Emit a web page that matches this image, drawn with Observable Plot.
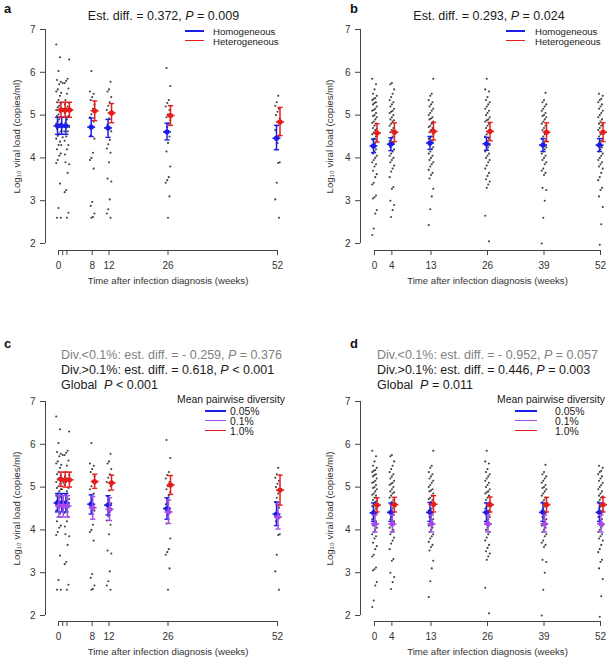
<!DOCTYPE html>
<html><head><meta charset="utf-8">
<script src="https://cdn.jsdelivr.net/npm/d3@7"></script>
<script src="https://cdn.jsdelivr.net/npm/@observablehq/plot@0.6"></script>
<style>
body{margin:0;background:#fff;}
#root{position:relative;width:614px;height:659px;font-family:"Liberation Sans",Arial,Helvetica,sans-serif;color:#1a1a1a;overflow:hidden;background:#fff}
.panel{position:absolute;width:307px}
.panel svg{position:absolute;left:0;top:0;overflow:visible}
.ov{position:absolute;white-space:nowrap}
.lab{font-weight:bold;font-size:13px;line-height:13px;color:#111}
.ttl{font-size:12.5px;line-height:15px}
.lg{font-size:9.6px;line-height:10px}
.lg2{font-size:10.4px;line-height:10.5px}
.sw{position:absolute;height:1.6px}
</style></head><body><div id="root"></div><script>
// ---------- data: panels a & c (same observations) ----------
const weeksA = [0, 1, 2, 8, 12, 26, 52];
const tickWeeksA = [0, 1, 2, 8, 12, 26, 52];
const tickLabelsA = [0, 8, 12, 26, 52];
const ptsA0 = [6.65, 6.35, 6.03, 5.82, 5.78, 5.72, 5.6, 5.55, 5.45, 5.35, 5.3, 5.27, 5.22, 5.18, 5.12, 5.08, 5.02, 4.98, 4.95, 4.9, 4.85, 4.8, 4.76, 4.72, 4.68, 4.62, 4.57, 4.52, 4.45, 4.38, 4.3, 4.2, 4.1, 4.05, 3.95, 3.88, 3.4, 2.83, 2.6, 2.6];
const ptsA1 = [5.75, 5.52, 5.25, 5.1, 4.95, 4.8, 4.62, 4.48, 4.3, 4.08];
const ptsA2 = [6.3, 5.85, 5.8, 5.75, 5.62, 5.5, 5.35, 5.28, 5.2, 5.12, 5.05, 4.98, 4.9, 4.82, 4.72, 4.62, 4.5, 4.4, 4.3, 4.2, 3.9, 3.85, 3.65, 3.25, 3.2, 2.72, 2.6];
const ptsA8 = [6.03, 5.55, 5.5, 5.42, 5.35, 5.25, 5.15, 5.02, 4.95, 4.85, 4.7, 4.52, 4.45, 4.12, 4.0, 3.95, 3.75, 2.97, 2.88, 2.7, 2.62, 2.6];
const ptsA12 = [5.78, 5.6, 5.55, 5.42, 5.3, 5.22, 5.12, 5.02, 4.92, 4.78, 4.62, 4.42, 4.32, 4.22, 4.12, 3.9, 3.52, 3.45, 3.03, 2.8, 2.7, 2.6];
const ptsA26 = [6.1, 5.68, 5.35, 5.28, 5.2, 5.12, 5.02, 4.95, 4.88, 4.8, 4.72, 4.6, 4.5, 4.35, 4.15, 3.8, 3.55, 3.48, 3.42, 3.1, 2.6];
const ptsA52 = [5.45, 5.3, 5.22, 5.15, 5.08, 5.0, 4.92, 4.85, 4.75, 4.65, 4.52, 4.35, 4.2, 3.9, 3.88, 3.42, 3.03, 2.6];

// panel a: estimated means with 95% CI
const homMeanA = [4.75, 4.75, 4.75, 4.72, 4.7, 4.61, 4.46];
const homLoA   = [4.55, 4.55, 4.55, 4.5, 4.48, 4.42, 4.19];
const homHiA   = [4.95, 4.95, 4.95, 4.93, 4.9, 4.81, 4.76];
const hetMeanA = [5.12, 5.12, 5.12, 5.1, 5.05, 4.99, 4.84];
const hetLoA   = [4.95, 4.95, 4.95, 4.87, 4.82, 4.76, 4.52];
const hetHiA   = [5.3, 5.3, 5.3, 5.33, 5.27, 5.22, 5.18];

// panel c: three diversity levels
const lowMeanC  = [4.63, 4.63, 4.63, 4.6, 4.58, 4.5, 4.37];
const lowLoC    = [4.42, 4.42, 4.42, 4.37, 4.35, 4.25, 4.1];
const lowHiC    = [4.85, 4.85, 4.85, 4.82, 4.8, 4.75, 4.65];
const midMeanC  = [4.56, 4.56, 4.56, 4.52, 4.48, 4.42, 4.3];
const midLoC    = [4.3, 4.3, 4.3, 4.25, 4.22, 4.15, 4.02];
const midHiC    = [4.8, 4.8, 4.8, 4.78, 4.75, 4.7, 4.6];
const highMeanC = [5.18, 5.17, 5.17, 5.13, 5.1, 5.05, 4.93];
const highLoC   = [5.02, 5.0, 5.0, 4.97, 4.93, 4.83, 4.58];
const highHiC   = [5.35, 5.35, 5.35, 5.3, 5.28, 5.27, 5.28];

// ---------- data: panels b & d (same observations) ----------
const weeksB = [0, 4, 13, 26, 39, 52];
const tickWeeksB = [0, 4, 13, 26, 39, 52];
const tickLabelsB = [0, 4, 13, 26, 39, 52];
const ptsB0 = [5.85, 5.72, 5.6, 5.5, 5.45, 5.4, 5.38, 5.35, 5.3, 5.28, 5.25, 5.2, 5.15, 5.12, 5.1, 5.05, 5.0, 4.98, 4.95, 4.9, 4.85, 4.82, 4.8, 4.75, 4.7, 4.68, 4.65, 4.6, 4.55, 4.5, 4.45, 4.42, 4.4, 4.35, 4.3, 4.25, 4.2, 4.15, 4.1, 4.05, 4.0, 3.95, 3.9, 3.85, 3.8, 3.7, 3.62, 3.55, 3.42, 3.38, 3.12, 3.08, 3.05, 2.78, 2.7, 2.35, 2.2];
const ptsB4 = [5.75, 5.72, 5.6, 5.5, 5.42, 5.35, 5.3, 5.25, 5.2, 5.15, 5.1, 5.08, 5.05, 5.0, 4.95, 4.9, 4.88, 4.85, 4.8, 4.75, 4.7, 4.65, 4.6, 4.55, 4.5, 4.45, 4.4, 4.35, 4.3, 4.25, 4.2, 4.15, 4.1, 4.05, 4.0, 3.95, 3.9, 3.82, 3.75, 3.68, 3.55, 3.32, 3.28, 3.0, 2.9, 2.78, 2.62];
const ptsB13 = [5.85, 5.5, 5.45, 5.35, 5.3, 5.25, 5.2, 5.15, 5.1, 5.05, 5.0, 4.95, 4.92, 4.9, 4.85, 4.8, 4.75, 4.72, 4.7, 4.65, 4.6, 4.55, 4.5, 4.48, 4.45, 4.4, 4.35, 4.3, 4.25, 4.2, 4.15, 4.1, 4.05, 4.0, 3.95, 3.9, 3.85, 3.8, 3.72, 3.65, 3.6, 3.52, 3.28, 3.1, 2.8, 2.43];
const ptsB26 = [5.85, 5.6, 5.55, 5.42, 5.35, 5.3, 5.25, 5.2, 5.15, 5.1, 5.05, 5.0, 4.95, 4.9, 4.88, 4.85, 4.8, 4.75, 4.7, 4.65, 4.6, 4.55, 4.5, 4.45, 4.4, 4.35, 4.3, 4.25, 4.2, 4.15, 4.1, 4.05, 4.0, 3.95, 3.9, 3.82, 3.75, 3.65, 3.58, 3.5, 3.45, 3.38, 3.3, 2.65, 2.05];
const ptsB39 = [5.52, 5.35, 5.3, 5.25, 5.2, 5.15, 5.1, 5.05, 5.0, 4.98, 4.95, 4.9, 4.85, 4.8, 4.75, 4.7, 4.65, 4.6, 4.55, 4.5, 4.45, 4.4, 4.35, 4.3, 4.25, 4.2, 4.15, 4.1, 4.05, 4.0, 3.95, 3.9, 3.85, 3.75, 3.7, 3.65, 3.6, 3.3, 3.25, 3.0, 2.6, 2.0];
const ptsB52 = [5.5, 5.45, 5.38, 5.35, 5.3, 5.25, 5.2, 5.15, 5.1, 5.05, 5.0, 4.95, 4.9, 4.85, 4.8, 4.78, 4.75, 4.7, 4.65, 4.6, 4.55, 4.5, 4.45, 4.4, 4.35, 4.3, 4.25, 4.2, 4.15, 4.1, 4.05, 4.0, 3.95, 3.9, 3.85, 3.8, 3.75, 3.65, 3.55, 3.48, 3.3, 3.25, 3.1, 2.85, 2.45, 1.97];

// panel b
const homMeanB = [4.28, 4.32, 4.35, 4.33, 4.3, 4.3];
const homLoB   = [4.12, 4.17, 4.2, 4.18, 4.15, 4.15];
const homHiB   = [4.44, 4.47, 4.5, 4.48, 4.45, 4.45];
const hetMeanB = [4.58, 4.6, 4.62, 4.62, 4.6, 4.6];
const hetLoB   = [4.37, 4.38, 4.42, 4.4, 4.38, 4.38];
const hetHiB   = [4.8, 4.82, 4.83, 4.83, 4.82, 4.82];

// panel d
const lowMeanD  = [4.4, 4.41, 4.41, 4.41, 4.41, 4.41];
const lowLoD    = [4.2, 4.2, 4.2, 4.2, 4.2, 4.2];
const lowHiD    = [4.63, 4.63, 4.64, 4.63, 4.63, 4.63];
const midMeanD  = [4.14, 4.14, 4.14, 4.14, 4.14, 4.14];
const midLoD    = [3.95, 3.95, 3.95, 3.95, 3.95, 3.95];
const midHiD    = [4.35, 4.35, 4.35, 4.35, 4.35, 4.35];
const highMeanD = [4.58, 4.59, 4.6, 4.59, 4.59, 4.59];
const highLoD   = [4.42, 4.42, 4.42, 4.42, 4.42, 4.42];
const highHiD   = [4.75, 4.76, 4.8, 4.77, 4.76, 4.76];

const yTicks = [2, 3, 4, 5, 6, 7];
const yTitle = "Log\u2081\u2080 viral load (copies/ml)";
const xTitle = "Time after infection diagnosis (weeks)";

// ---------- drawing ----------
const COL = {blue: "#1c1ce8", red: "#e81c1c", purple: "#a54ae6"};
const FONT = '"Liberation Sans", Arial, Helvetica, sans-serif';
const root = document.getElementById("root");
const hSym = {draw(ctx, size) { const r = Math.sqrt(size / Math.PI); ctx.moveTo(-r, 0); ctx.lineTo(r, 0); }};

function pointRows(weeks, arrays, ppw) {
  const rows = [];
  weeks.forEach((w, k) => arrays[k].forEach((v, i) => {
    const jit = (((i * 5 + k * 3) % 7) - 3) * 0.75; // px, deterministic jitter
    rows.push({x: w + jit / ppw, v});
  }));
  return rows;
}
function groupRows(weeks, mean, lo, hi) {
  return weeks.map((w, i) => ({week: w, mean: mean[i], lo: lo[i], hi: hi[i]}));
}
function groupMarks(rows, color, dx) {
  return [
    Plot.ruleX(rows, {x: "week", y1: "lo", y2: "hi", dx, stroke: color, strokeWidth: 1.5}),
    Plot.dot(rows, {x: "week", y: "lo", dx, symbol: hSym, r: 2.6, fill: "none", stroke: color, strokeWidth: 1.4}),
    Plot.dot(rows, {x: "week", y: "hi", dx, symbol: hSym, r: 2.6, fill: "none", stroke: color, strokeWidth: 1.4}),
    Plot.dot(rows, {x: "week", y: "mean", dx, symbol: hSym, r: 4, fill: "none", stroke: color, strokeWidth: 1.6}),
    Plot.dot(rows, {x: "week", y: "mean", dx, r: 2.6, fill: color, stroke: null})
  ];
}
function ov(parent, cls, left, top, html, style) {
  const d = document.createElement("div");
  d.className = "ov " + cls;
  d.style.left = left + "px"; d.style.top = top + "px";
  if (style) Object.assign(d.style, style);
  d.innerHTML = html;
  parent.appendChild(d);
  return d;
}
function swatch(parent, left, top, width, color) {
  const d = document.createElement("div");
  d.className = "sw";
  Object.assign(d.style, {left: left + "px", top: top + "px", width: width + "px", background: color});
  parent.appendChild(d);
}

function panel(cfg) {
  const W = 307;
  const div = document.createElement("div");
  div.className = "panel";
  div.style.left = cfg.left + "px"; div.style.top = cfg.top + "px"; div.style.height = cfg.H + "px";
  root.appendChild(div);
  const ppw = (W - cfg.ml - cfg.mr) / 52;
  const pts = pointRows(cfg.ptWeeks, cfg.ptArrays, ppw);
  const marks = [
    Plot.ruleX([0], {y1: 2, y2: 7, dx: cfg.axDx, stroke: "#444"}),
    Plot.axisY({ticks: yTicks, tickFormat: d => String(d), dx: cfg.axDx, tickSize: 5, tickPadding: 5, fontSize: 10, label: null, stroke: "#444", fill: "#333"}),
    Plot.ruleY([2], {x1: 0, x2: 52, dy: cfg.axDy, stroke: "#444"}),
    Plot.axisX({ticks: cfg.xticks, tickFormat: d => cfg.xlabels.includes(d) ? String(d) : "", dy: cfg.axDy, tickSize: 5, tickPadding: 6, fontSize: 10, label: null, stroke: "#444", fill: "#333"}),
    Plot.dot(pts, {x: "x", y: "v", r: 1.05, fill: "#222", fillOpacity: 0.85, stroke: null})
  ];
  cfg.groups.forEach(g => marks.push(...groupMarks(groupRows(cfg.weeks, g.mean, g.lo, g.hi), g.color, g.dx)));
  marks.push(
    Plot.text([yTitle], {frameAnchor: "left", textAnchor: "middle", lineAnchor: "middle", rotate: -90, dx: cfg.yLabDx, fontSize: 9.6, fill: "#333"}),
    Plot.text([xTitle], {frameAnchor: "bottom", textAnchor: "middle", lineAnchor: "middle", dy: cfg.xLabDy, fontSize: 9.6, fill: "#333"})
  );
  const svg = Plot.plot({
    width: W, height: cfg.H,
    marginTop: cfg.mt, marginBottom: cfg.mb, marginLeft: cfg.ml, marginRight: cfg.mr,
    x: {domain: [0, 52]}, y: {domain: [2, 7]},
    style: {fontFamily: FONT, background: "transparent", overflow: "visible"},
    marks
  });
  div.appendChild(svg);
  return div;
}

// panel a
const pa = panel({left: 0, top: 0, H: 330, mt: 29, mb: 87, ml: 58, mr: 30, axDx: -13, axDy: 7, yLabDx: -42, xLabDy: 37,
  xticks: tickWeeksA, xlabels: tickLabelsA, weeks: weeksA, ptWeeks: weeksA,
  ptArrays: [ptsA0, ptsA1, ptsA2, ptsA8, ptsA12, ptsA26, ptsA52],
  groups: [
    {mean: homMeanA, lo: homLoA, hi: homHiA, color: COL.blue, dx: -1},
    {mean: hetMeanA, lo: hetLoA, hi: hetHiA, color: COL.red, dx: 2.5}
  ]});
ov(pa, "lab", 4, 1.5, "a");
ov(pa, "ttl", 13.5, 8.5, "Est. diff. = 0.372, <i>P</i> = 0.009", {width: "300px", textAlign: "center"});
swatch(pa, 185, 30, 19, COL.blue);
swatch(pa, 185, 39.6, 19, COL.red);
ov(pa, "lg", 213, 27.2, "Homogeneous");
ov(pa, "lg", 213, 37.0, "Heterogeneous");

// panel b
const pb = panel({left: 307, top: 0, H: 330, mt: 29, mb: 87, ml: 67, mr: 14, axDx: -14, axDy: 7, yLabDx: -45, xLabDy: 37,
  xticks: tickWeeksB, xlabels: tickLabelsB, weeks: weeksB, ptWeeks: weeksB,
  ptArrays: [ptsB0, ptsB4, ptsB13, ptsB26, ptsB39, ptsB52],
  groups: [
    {mean: homMeanB, lo: homLoB, hi: homHiB, color: COL.blue, dx: -1},
    {mean: hetMeanB, lo: hetLoB, hi: hetHiB, color: COL.red, dx: 2.5}
  ]});
ov(pb, "lab", 43, 1.5, "b");
ov(pb, "ttl", 32, 8.5, "Est. diff. = 0.293, <i>P</i> = 0.024", {width: "300px", textAlign: "center"});
swatch(pb, 199, 30, 19, COL.blue);
swatch(pb, 199, 39.6, 19, COL.red);
ov(pb, "lg", 228, 27.2, "Homogeneous");
ov(pb, "lg", 228, 37.0, "Heterogeneous");

// panel c
const pc = panel({left: 0, top: 330, H: 329, mt: 71, mb: 44, ml: 58, mr: 30, axDx: -13, axDy: 6, yLabDx: -42, xLabDy: 36.5,
  xticks: tickWeeksA, xlabels: tickLabelsA, weeks: weeksA, ptWeeks: weeksA,
  ptArrays: [ptsA0, ptsA1, ptsA2, ptsA8, ptsA12, ptsA26, ptsA52],
  groups: [
    {mean: lowMeanC, lo: lowLoC, hi: lowHiC, color: COL.blue, dx: -1},
    {mean: midMeanC, lo: midLoC, hi: midHiC, color: COL.purple, dx: 0.5},
    {mean: highMeanC, lo: highLoC, hi: highHiC, color: COL.red, dx: 2.5}
  ]});
ov(pc, "lab", 4, 7.3, "c");
ov(pc, "ttl", 61, 18, "Div.&lt;0.1%: est. diff. = - 0.259, <i>P</i> = 0.376", {color: "#808080"});
ov(pc, "ttl", 61, 33, "Div.&gt;0.1%: est. diff. = 0.618, <i>P</i> &lt; 0.001");
ov(pc, "ttl", 61, 48, "Global&nbsp; <i>P</i> &lt; 0.001");
ov(pc, "lg2", 177, 64.6, "Mean pairwise diversity");
swatch(pc, 205, 80.2, 21, COL.blue);
swatch(pc, 205, 89.9, 21, COL.purple);
swatch(pc, 205, 99.5, 21, COL.red);
ov(pc, "lg2", 230, 77.4, "0.05%");
ov(pc, "lg2", 230, 87.0, "0.1%");
ov(pc, "lg2", 230, 96.6, "1.0%");

// panel d
const pd = panel({left: 307, top: 330, H: 329, mt: 71, mb: 44, ml: 67, mr: 14, axDx: -14, axDy: 6, yLabDx: -45, xLabDy: 36.5,
  xticks: tickWeeksB, xlabels: tickLabelsB, weeks: weeksB, ptWeeks: weeksB,
  ptArrays: [ptsB0, ptsB4, ptsB13, ptsB26, ptsB39, ptsB52],
  groups: [
    {mean: lowMeanD, lo: lowLoD, hi: lowHiD, color: COL.blue, dx: -1},
    {mean: midMeanD, lo: midLoD, hi: midHiD, color: COL.purple, dx: 0.5},
    {mean: highMeanD, lo: highLoD, hi: highHiD, color: COL.red, dx: 2.5}
  ]});
ov(pd, "lab", 43, 7.3, "d");
ov(pd, "ttl", 70, 18, "Div.&lt;0.1%: est. diff. = - 0.952, <i>P</i> = 0.057", {color: "#808080"});
ov(pd, "ttl", 70, 33, "Div.&gt;0.1%: est. diff. = 0.446, <i>P</i> = 0.003");
ov(pd, "ttl", 70, 48, "Global&nbsp; <i>P</i> = 0.011");
ov(pd, "lg2", 190, 64.6, "Mean pairwise diversity");
swatch(pd, 208, 80.2, 22, COL.blue);
swatch(pd, 208, 89.9, 22, COL.purple);
swatch(pd, 208, 99.5, 22, COL.red);
ov(pd, "lg2", 248, 77.4, "0.05%");
ov(pd, "lg2", 248, 87.0, "0.1%");
ov(pd, "lg2", 248, 96.6, "1.0%");
</script></body></html>
